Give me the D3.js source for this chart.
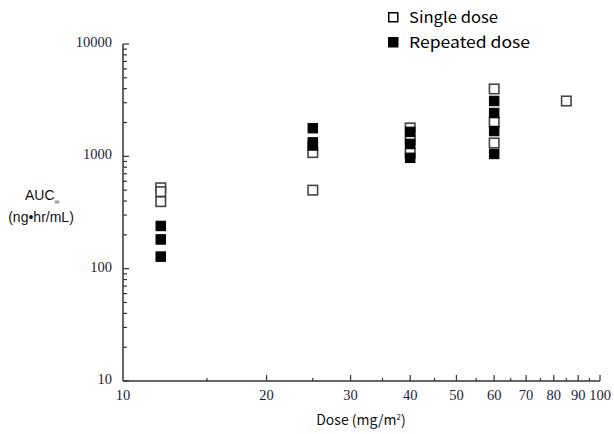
<!DOCTYPE html>
<html>
<head>
<meta charset="utf-8">
<script src="https://cdn.jsdelivr.net/npm/d3@7"></script>
<style>
  body { margin: 0; background: #fff; }
  svg { display: block; }
</style>
</head>
<body>
<svg id="chart" width="614" height="434"></svg>
<script>
// values
var singleDose = [12, 12, 12, 25, 25, 40, 40, 40, 60, 60, 60, 85]
var singleAUC = [525, 485, 395, 1080, 500, 1790, 1400, 1070, 3980, 2020, 1315, 3110]
var repeatDose = [12, 12, 12, 25, 25, 25, 40, 40, 40, 60, 60, 60, 60]
var repeatAUC = [240, 182, 128, 1780, 1330, 1250, 1650, 1290, 970, 3110, 2430, 1680, 1050]

var xMajor = [10, 20, 30, 40, 50, 60, 70, 80, 90, 100]
var xMinor = [15, 25, 35, 45, 55, 65, 75, 85, 95]
var yMajor = [10, 100, 1000, 10000]
var legendLabels = ["Single dose", "Repeated dose"]
var legendWidths = [89, 121]

var svg = d3.select("#chart")

var x = d3.scaleLog().domain([10, 100]).range([123, 600])
var y = d3.scaleLog().domain([10, 10000]).range([381, 44])

var axisColor = "#333"
var tickFont = "'Liberation Serif', 'DejaVu Serif', serif"
var gothic = "'Noto Sans CJK JP', 'DejaVu Sans', sans-serif"
var sans = "'Liberation Sans', Arial, sans-serif"

// minor y ticks 2..9 of every decade
var yMinor = []
yMajor.slice(0, -1).forEach(function (d) {
    for (let k = 2; k <= 9; k++) yMinor.push(d * k)
})

var g = svg.append("g")

// y axis
g.append("line")
    .attr("x1", x(10)).attr("x2", x(10))
    .attr("y1", y(10000)).attr("y2", y(10))
    .attr("stroke", axisColor).attr("stroke-width", 1.5)
g.selectAll(".ymin").data(yMinor).join("line")
    .attr("x1", x(10)).attr("x2", x(10) + 4)
    .attr("y1", d => y(d)).attr("y2", d => y(d))
    .attr("stroke", axisColor).attr("stroke-width", 1.2)
g.selectAll(".ymaj").data(yMajor).join("line")
    .attr("x1", x(10)).attr("x2", x(10) + 6)
    .attr("y1", d => y(d)).attr("y2", d => y(d))
    .attr("stroke", axisColor).attr("stroke-width", 1.2)
g.selectAll(".ylab").data(yMajor).join("text")
    .attr("x", x(10) - 11)
    .attr("y", d => y(d) + 3)
    .attr("text-anchor", "end")
    .attr("font-family", tickFont)
    .attr("font-size", 14.5)
    .attr("fill", "#1c1c3a")
    .text(d => d)

// x axis
g.append("line")
    .attr("x1", x(10)).attr("x2", x(100))
    .attr("y1", y(10)).attr("y2", y(10))
    .attr("stroke", axisColor).attr("stroke-width", 1.5)
g.selectAll(".xmaj").data(xMajor.slice(1)).join("line")
    .attr("x1", d => x(d)).attr("x2", d => x(d))
    .attr("y1", y(10)).attr("y2", y(10) - 6)
    .attr("stroke", axisColor).attr("stroke-width", 1.2)
g.selectAll(".xmin").data(xMinor).join("line")
    .attr("x1", d => x(d)).attr("x2", d => x(d))
    .attr("y1", y(10)).attr("y2", y(10) - 3)
    .attr("stroke", axisColor).attr("stroke-width", 1.2)
g.selectAll(".xlab").data(xMajor).join("text")
    .attr("x", d => x(d))
    .attr("y", y(10) + 19)
    .attr("text-anchor", "middle")
    .attr("font-family", tickFont)
    .attr("font-size", 14.5)
    .attr("fill", "#1c1c3a")
    .text(d => d)

// axis titles
var xt = g.append("text")
    .attr("x", 361).attr("y", 425)
    .attr("text-anchor", "middle")
    .attr("font-family", gothic)
    .attr("font-size", 14)
    .attr("fill", "#111")
xt.append("tspan").text("Dose (mg/m")
xt.append("tspan").attr("dy", -5).attr("font-size", 8).text("2")
xt.append("tspan").attr("dy", 5).text(")")

var yt = g.append("text")
    .attr("x", 25).attr("y", 200)
    .attr("font-family", sans)
    .attr("font-size", 14)
    .attr("fill", "#111")
yt.append("tspan").text("AUC")
yt.append("tspan").attr("dy", 4).attr("font-size", 7).text("∞")
g.append("text")
    .attr("x", 41).attr("y", 222)
    .attr("text-anchor", "middle")
    .attr("font-family", sans)
    .attr("font-size", 14)
    .attr("fill", "#111")
    .text("(ng•hr/mL)")

// points: single first, repeated drawn on top
var sz = 9.5
var single = singleDose.map((d, i) => ({ dose: d, auc: singleAUC[i] }))
var repeat = repeatDose.map((d, i) => ({ dose: d, auc: repeatAUC[i] }))

g.selectAll(".single").data(single).join("rect")
    .attr("x", d => x(d.dose) - sz / 2)
    .attr("y", d => y(d.auc) - sz / 2)
    .attr("width", sz).attr("height", sz)
    .attr("fill", "#fff")
    .attr("stroke", "#444")
    .attr("stroke-width", 1.6)
g.selectAll(".repeat").data(repeat).join("rect")
    .attr("x", d => x(d.dose) - sz / 2)
    .attr("y", d => y(d.auc) - sz / 2)
    .attr("width", sz).attr("height", sz)
    .attr("fill", "#000")
    .attr("stroke", "#000")
    .attr("stroke-width", 1)

// legend
var leg = g.selectAll(".leg").data(legendLabels).join("g")
    .attr("transform", (d, i) => `translate(388, ${12 + i * 25})`)
leg.append("rect")
    .attr("x", 0.75).attr("y", 0.75)
    .attr("width", 9).attr("height", 9)
    .attr("fill", (d, i) => i == 0 ? "#fff" : "#000")
    .attr("stroke", "#000")
    .attr("stroke-width", 1.5)
leg.append("text")
    .attr("x", 21).attr("y", 11)
    .attr("font-family", gothic)
    .attr("font-size", 15)
    .attr("fill", "#000")
    .attr("textLength", (d, i) => legendWidths[i])
    .attr("lengthAdjust", "spacingAndGlyphs")
    .text(d => d)
</script>
</body>
</html>
